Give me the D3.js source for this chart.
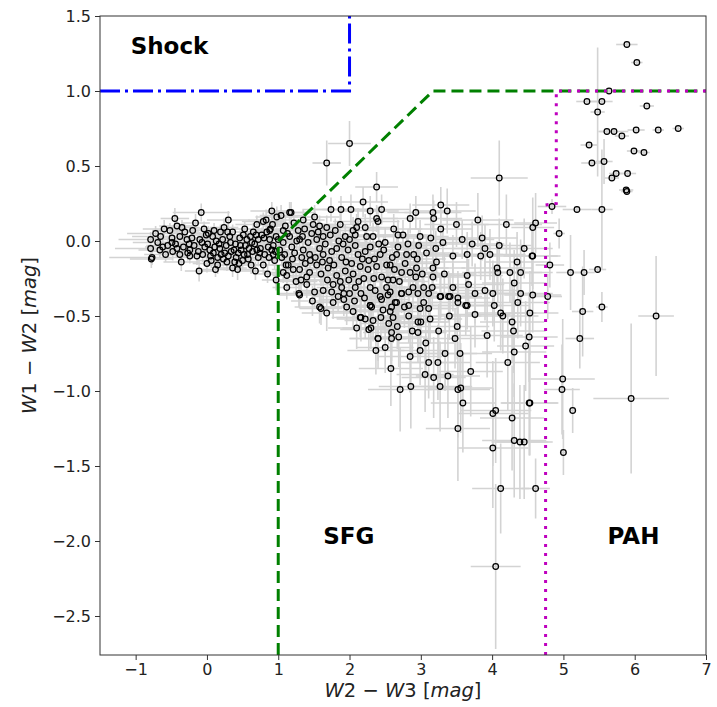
<!DOCTYPE html>
<html><head><meta charset="utf-8">
<script src="https://cdn.jsdelivr.net/npm/d3@7"></script>
<style>body{margin:0;background:#fff;} text{font-family:"DejaVu Sans",sans-serif;}</style>
</head><body><svg id="c" width="717" height="707"></svg>
<script>
// each entry: [W2-W3, W1-W2, xerr, yerr]
const bluePoints = [
[-0.79,0.01,0.45,0.05],[-0.79,-0.05,0.5,0.06],[-0.77,-0.11,0.6,0.05],[-0.78,-0.12,0.3,0.06],
[-0.69,-0.01,0.35,0.05],[-0.66,-0.06,0.3,0.05],[-0.62,-0.04,0.25,0.06],[-0.60,0.08,0.3,0.06],
[-0.52,0.07,0.25,0.05],[-0.49,0.02,0.3,0.06],[-0.49,-0.01,0.2,0.05],[-0.45,0.15,0.2,0.07],
[-0.42,0.10,0.25,0.06],[-0.48,-0.07,0.3,0.06],[-0.42,-0.05,0.2,0.05],[-0.38,0.03,0.2,0.05],
[-0.36,-0.14,0.25,0.06],[-0.31,0.06,0.2,0.05],[-0.28,0.01,0.25,0.05],[-0.25,-0.02,0.2,0.06],
[-0.24,-0.06,0.2,0.05],[-0.20,0.07,0.25,0.06],[-0.24,-0.10,0.2,0.05],[-0.14,-0.10,0.2,0.06],
[-0.11,-0.20,0.2,0.07],[-0.08,0.19,0.4,0.06],[-0.04,0.08,0.2,0.05],[-0.10,0.01,0.15,0.05],
[-0.03,-0.04,0.2,0.05],[0.00,-0.15,0.2,0.06],[0.04,-0.06,0.15,0.05],[0.08,0.03,0.2,0.05],
[0.11,-0.04,0.15,0.05],[0.15,-0.11,0.2,0.06],[0.15,-0.16,0.2,0.06],[0.22,0.01,0.15,0.05],
[0.24,0.09,0.2,0.06],[0.25,-0.08,0.15,0.05],[0.28,-0.14,0.2,0.06],[0.32,0.03,0.2,0.05],
[0.36,0.06,0.2,0.05],[0.38,-0.06,0.15,0.05],[0.36,-0.18,0.2,0.06],[0.41,-0.11,0.2,0.05],
[0.43,-0.19,0.2,0.07],[0.48,-0.06,0.2,0.05],[0.50,-0.13,0.2,0.06],[0.56,0.01,0.2,0.05],
[0.59,-0.05,0.2,0.05],[0.62,-0.16,0.2,0.06],[0.65,0.06,0.2,0.06],[0.70,0.11,0.3,0.06],
[0.72,0.01,0.2,0.05],[0.70,-0.06,0.2,0.05],[0.72,-0.11,0.2,0.06],[0.79,-0.16,0.2,0.06],
[0.79,0.13,0.3,0.06],[0.84,0.06,0.2,0.06],[0.83,0.14,0.25,0.07],[0.88,0.01,0.2,0.05],
[0.91,-0.06,0.2,0.06],[0.93,-0.03,0.2,0.05],[0.95,-0.13,0.2,0.06],[0.98,0.16,0.3,0.07],
[1.04,0.17,0.3,0.07],[1.00,0.01,0.2,0.06],[1.05,-0.11,0.2,0.06],[1.12,-0.31,0.2,0.08],
[1.16,0.19,0.3,0.07],[1.11,-0.16,0.2,0.06],[1.12,-0.23,0.2,0.07],
[-0.18,-0.03,0.2,0.05],[-0.12,-0.07,0.2,0.05],[-0.06,-0.09,0.2,0.05],[0.01,-0.02,0.2,0.05],
[0.05,-0.10,0.2,0.05],[0.09,-0.08,0.2,0.05],[0.13,0.00,0.2,0.05],[0.18,-0.05,0.2,0.05],
[0.20,-0.09,0.2,0.05],[0.27,-0.03,0.2,0.05],[0.30,-0.10,0.2,0.05],[0.34,-0.07,0.2,0.05],
[0.40,-0.02,0.2,0.05],[0.44,-0.08,0.2,0.05],[0.46,0.02,0.2,0.05],[0.52,-0.09,0.2,0.05],
[0.54,-0.03,0.2,0.05],[0.58,-0.12,0.2,0.05],[0.61,0.03,0.2,0.05],[0.64,-0.07,0.2,0.05],
[0.67,-0.02,0.2,0.05],[0.75,-0.05,0.2,0.05],[0.77,0.04,0.2,0.05],[0.81,-0.09,0.2,0.05],
[0.86,-0.04,0.2,0.05],[0.89,0.08,0.2,0.05],[0.96,-0.07,0.2,0.05],[0.02,0.05,0.2,0.05],
[-0.33,-0.04,0.2,0.05],[-0.55,-0.03,0.3,0.05],[0.19,0.06,0.2,0.05],[0.53,0.08,0.2,0.05],
[0.45,-0.15,0.2,0.05],[0.12,-0.19,0.2,0.05],[0.68,-0.20,0.2,0.06],[0.85,-0.22,0.2,0.06],
[0.97,-0.26,0.2,0.07],[0.91,0.20,0.3,0.06],[-0.16,0.12,0.2,0.06],[0.30,0.14,0.3,0.06],
[-0.65,0.03,0.4,0.06],[-0.38,-0.09,0.2,0.05],
[-0.72,0.05,0.4,0.05],[-0.58,-0.09,0.3,0.05],[-0.44,-0.02,0.3,0.05],[-0.35,0.09,0.25,0.05],
[-0.27,-0.08,0.2,0.05],[-0.21,0.02,0.2,0.05],[-0.07,-0.01,0.2,0.05],[-0.01,0.04,0.2,0.05],
[0.06,-0.13,0.2,0.05],[0.10,0.07,0.2,0.05],[0.17,-0.02,0.2,0.05],[0.23,-0.12,0.2,0.05],
[0.29,0.06,0.2,0.05],[0.33,-0.01,0.2,0.05],[0.39,-0.14,0.2,0.05],[0.47,-0.03,0.2,0.05],
[0.51,0.04,0.2,0.05],[0.57,-0.09,0.2,0.05],[0.63,-0.01,0.2,0.05],[0.69,0.04,0.2,0.05],
[0.74,-0.08,0.2,0.05],[0.80,0.02,0.2,0.05],[0.87,-0.11,0.2,0.05],[0.92,0.11,0.2,0.05],
[0.97,0.03,0.2,0.05]
];
const sfgBand = [
[1.18,0.19,0.35,0.07],[1.35,0.14,0.3,0.07],[1.51,0.16,0.35,0.08],[1.74,0.21,0.4,0.08],
[1.88,0.21,0.4,0.09],[2.02,0.21,0.4,0.1],[2.19,0.26,0.35,0.1],[2.29,0.20,0.4,0.1],
[2.45,0.21,0.4,0.1],[2.38,0.15,0.3,0.09],[2.40,0.13,0.3,0.1],[0.88,0.07,0.25,0.06],
[1.07,0.07,0.3,0.06],[1.16,0.03,0.25,0.06],[1.28,0.07,0.3,0.07],[1.37,0.08,0.3,0.07],
[1.49,0.11,0.3,0.07],[1.58,0.10,0.3,0.07],[1.68,0.09,0.3,0.08],[1.80,0.07,0.35,0.08],
[1.87,0.11,0.3,0.08],[2.10,0.09,0.35,0.09],[2.12,0.13,0.35,0.09],[2.22,0.09,0.35,0.09],
[2.24,0.03,0.35,0.09],[2.33,0.03,0.35,0.09],[1.94,0.03,0.3,0.08],[2.00,0.01,0.3,0.08],
[2.08,0.04,0.3,0.08],[1.73,0.04,0.3,0.07],[1.63,0.03,0.3,0.07],[1.54,0.01,0.3,0.07],
[1.42,-0.01,0.3,0.07],[1.30,0.01,0.3,0.07],[1.19,-0.04,0.3,0.07],[1.07,-0.01,0.25,0.06],
[1.02,-0.06,0.25,0.06],[1.09,-0.09,0.25,0.06],[1.23,-0.08,0.3,0.07],[1.35,-0.06,0.3,0.07],
[1.33,-0.11,0.3,0.07],[1.44,-0.09,0.3,0.07],[1.58,-0.05,0.3,0.07],[1.63,-0.09,0.3,0.08],
[1.75,-0.07,0.3,0.08],[1.82,-0.05,0.3,0.08],[1.89,-0.11,0.35,0.08],[1.98,-0.06,0.35,0.08],
[2.08,-0.03,0.35,0.09],[2.12,-0.09,0.35,0.09],[2.22,-0.07,0.35,0.09],[2.29,-0.04,0.35,0.09],
[2.43,-0.09,0.4,0.1],[2.50,-0.01,0.4,0.1],[2.68,-0.04,0.4,0.1],[2.52,-0.16,0.4,0.1],
[2.57,-0.16,0.4,0.1],[2.38,-0.17,0.4,0.1],[2.26,-0.19,0.35,0.1],[2.15,-0.17,0.35,0.1],
[2.03,-0.15,0.35,0.09],[1.94,-0.20,0.35,0.09],[1.82,-0.23,0.35,0.09],[1.70,-0.18,0.3,0.09],
[1.54,-0.16,0.3,0.08],[1.44,-0.21,0.3,0.08],[1.30,-0.19,0.3,0.08],[1.14,-0.16,0.25,0.07],
[1.30,-0.36,0.3,0.09],[1.51,-0.34,0.3,0.1],[1.77,-0.29,0.35,0.1],[1.89,-0.31,0.35,0.1],
[2.08,-0.31,0.35,0.1],[2.29,-0.31,0.4,0.11],[2.43,-0.37,0.4,0.12],[2.64,-0.41,0.4,0.12],
[2.73,-0.35,0.4,0.12],[2.57,-0.34,0.4,0.12],[2.31,-0.44,0.4,0.12],[1.77,-0.41,0.35,0.11],
[1.58,-0.44,0.35,0.11],[1.07,-0.21,0.25,0.07],[0.93,-0.09,0.25,0.06],[2.75,0.04,0.4,0.1],
[2.68,0.04,0.4,0.1],[2.90,-0.09,0.4,0.11],[2.94,-0.18,0.45,0.12],[2.85,-0.21,0.4,0.12],
[2.93,-0.24,0.45,0.12],[2.89,-0.31,0.45,0.13],[3.04,-0.31,0.45,0.13],[2.78,-0.15,0.4,0.11],
[2.66,-0.09,0.4,0.11],[2.73,-0.21,0.4,0.12],[2.80,-0.09,0.4,0.11],[2.61,-0.26,0.4,0.12],
[2.54,-0.26,0.4,0.12],[2.45,-0.24,0.4,0.11],[1.29,-0.35,0.3,0.09],[1.25,-0.27,0.3,0.08],
[1.40,-0.29,0.3,0.09],[1.63,-0.33,0.3,0.1],[1.60,-0.45,0.3,0.11],[1.92,-0.39,0.35,0.11],
[1.92,-0.35,0.35,0.1],[2.05,-0.47,0.35,0.12],[2.15,-0.51,0.4,0.13],[2.22,-0.52,0.4,0.13],
[2.29,-0.43,0.4,0.12],[2.27,-0.59,0.4,0.14],[2.30,-0.58,0.4,0.14],[2.40,-0.65,0.4,0.15],
[2.37,-0.73,0.4,0.16],[2.44,-0.51,0.4,0.13],[2.16,-0.35,0.35,0.1],[2.00,-0.35,0.35,0.1],
[1.87,-0.27,0.3,0.09],
[1.20,-0.12,0.3,0.07],[1.26,0.00,0.3,0.07],[1.38,-0.15,0.3,0.08],[1.47,0.05,0.3,0.07],
[1.52,-0.11,0.3,0.08],[1.60,-0.22,0.3,0.08],[1.66,-0.02,0.3,0.08],[1.72,-0.13,0.3,0.08],
[1.85,0.00,0.3,0.08],[1.95,-0.14,0.35,0.09],[2.05,0.07,0.35,0.09],[2.18,-0.12,0.35,0.09],
[2.20,-0.25,0.35,0.1],[2.35,-0.12,0.4,0.1],[2.48,-0.06,0.4,0.1],[2.60,-0.11,0.4,0.1],
[2.62,0.08,0.4,0.1],[2.05,-0.22,0.35,0.1],[1.75,-0.34,0.35,0.1],[1.40,-0.24,0.3,0.08],
[1.22,0.12,0.3,0.07],[1.32,-0.26,0.3,0.08],[2.52,-0.31,0.4,0.12],[2.34,-0.25,0.4,0.11],
[1.10,0.10,0.3,0.07],[2.70,-0.27,0.4,0.12],[2.85,0.15,0.4,0.1],
[1.13,0.05,0.3,0.07],[1.21,-0.19,0.3,0.07],[1.34,0.03,0.3,0.07],[1.45,-0.13,0.3,0.08],
[1.56,0.06,0.3,0.08],[1.62,-0.14,0.3,0.08],[1.69,-0.26,0.3,0.09],[1.78,-0.16,0.3,0.08],
[1.84,-0.37,0.35,0.1],[1.91,-0.02,0.3,0.08],[1.99,-0.26,0.35,0.1],[2.07,-0.40,0.35,0.11],
[2.13,-0.27,0.35,0.1],[2.21,-0.38,0.4,0.11],[2.27,-0.13,0.35,0.1],[2.36,-0.33,0.4,0.11],
[2.41,-0.02,0.4,0.1],[2.47,-0.46,0.4,0.13],[2.55,-0.55,0.4,0.14],[2.63,-0.19,0.4,0.11],
[2.67,-0.57,0.4,0.15],[2.77,-0.44,0.4,0.14],[2.82,-0.02,0.4,0.1],[2.88,-0.60,0.45,0.16],
[2.95,-0.12,0.4,0.11],[3.02,-0.22,0.45,0.12],[3.08,-0.08,0.45,0.12],[3.13,-0.52,0.45,0.16],
[3.22,-0.14,0.45,0.13],[3.25,-0.60,0.45,0.18],[3.33,-0.22,0.45,0.14],[3.40,-0.50,0.45,0.16],
[3.45,-0.10,0.45,0.14],[3.48,-0.65,0.45,0.2],[1.48,-0.40,0.3,0.1],[1.68,-0.48,0.35,0.12],
[1.96,-0.44,0.35,0.12],[2.10,-0.58,0.4,0.14],[2.33,-0.53,0.4,0.14],[2.50,-0.71,0.4,0.17]
];
const sfgRed = [
[3.28,0.24,0.4,0.12],[3.17,0.19,0.4,0.12],[3.18,0.15,0.4,0.12],[2.93,0.19,0.4,0.11],
[3.58,0.01,0.45,0.13],[3.28,0.08,0.45,0.12],[3.14,0.02,0.45,0.12],[3.31,-0.01,0.45,0.12],
[3.21,-0.05,0.45,0.12],[2.99,0.03,0.4,0.11],[2.97,-0.03,0.4,0.11],[3.17,-0.18,0.45,0.13],
[3.17,-0.24,0.45,0.13],[3.16,-0.31,0.45,0.14],[3.28,-0.37,0.45,0.14],[3.65,-0.23,0.5,0.15],
[3.65,-0.43,0.5,0.16],[3.41,-0.37,0.45,0.15],[3.52,-0.41,0.45,0.15],
[3.37,0.20,0.4,0.15],[3.50,0.11,0.45,0.15],[3.80,0.14,0.5,0.18],[4.20,0.11,0.5,0.2],
[3.86,0.02,0.5,0.15],[4.10,-0.03,0.45,0.18],[3.90,-0.05,0.45,0.16],[3.72,-0.02,0.45,0.15],
[4.45,-0.05,0.4,0.2],
[3.65,-0.09,0.5,0.15],[3.84,-0.10,0.5,0.16],[3.97,-0.09,0.5,0.17],[4.35,-0.14,0.45,0.2],
[4.56,-0.10,0.4,0.2],[4.07,-0.18,0.5,0.18],[4.08,-0.21,0.5,0.2],[4.25,-0.21,0.45,0.2],
[4.40,-0.21,0.45,0.22],[4.31,-0.28,0.45,0.22],[3.67,-0.29,0.5,0.17],[3.90,-0.33,0.5,0.2],
[4.01,-0.35,0.5,0.22],[3.76,-0.35,0.5,0.2],[3.45,-0.31,0.45,0.16],[3.52,-0.38,0.45,0.18],
[3.39,-0.37,0.45,0.17],[3.27,-0.37,0.45,0.16],[4.40,-0.35,0.45,0.22],[4.57,-0.36,0.4,0.25],
[4.36,-0.41,0.45,0.24],[4.03,-0.43,0.5,0.24],[3.63,-0.43,0.5,0.2],[3.76,-0.49,0.5,0.22],
[4.12,-0.48,0.5,0.25],[4.15,-0.50,0.5,0.25],[4.28,-0.54,0.45,0.27],[4.53,-0.48,0.4,0.28],
[3.51,-0.57,0.45,0.22],[3.93,-0.63,0.5,0.28],[4.52,-0.64,0.4,0.3],[4.47,-0.70,0.4,0.3],
[4.31,-0.74,0.45,0.3],[4.22,-0.81,0.45,0.32],[3.70,-0.87,0.45,0.3],[3.38,-0.90,0.45,0.28],
[3.18,-0.91,0.45,0.27],[3.06,-0.89,0.4,0.25],[3.24,-0.81,0.45,0.25],[3.11,-0.81,0.4,0.24],
[3.34,-0.75,0.45,0.25],[3.55,-0.75,0.45,0.26],[3.27,-0.97,0.45,0.3],[3.52,-0.99,0.45,0.32],
[3.56,-0.98,0.45,0.3],[3.59,-1.08,0.45,0.33],[4.01,-1.15,0.5,0.35],[4.05,-1.13,0.5,0.35],
[4.28,-1.18,0.45,0.35],[4.52,-1.08,0.4,0.35],[3.52,-1.25,0.45,0.35],[4.31,-1.33,0.45,0.38],
[4.39,-1.34,0.4,0.38],[4.45,-1.34,0.4,0.38],[4.01,-1.38,0.5,0.4],[2.71,-0.99,0.45,0.28],
[2.86,-0.97,0.45,0.28],[2.58,-0.85,0.45,0.25],[2.85,-0.77,0.45,0.24],[2.99,-0.73,0.4,0.23],
[3.07,-0.68,0.4,0.22],[2.96,-0.61,0.4,0.2],[2.40,-0.65,0.4,0.2],[2.59,-0.65,0.4,0.2],
[2.69,-0.64,0.4,0.2],[2.59,-0.61,0.4,0.19],[2.16,-0.51,0.35,0.16],[2.61,-0.51,0.4,0.17],
[2.83,-0.50,0.4,0.18],[2.96,-0.54,0.4,0.18],[3.00,-0.54,0.4,0.18],[2.99,-0.45,0.4,0.16],
[3.11,-0.45,0.4,0.16],[3.04,-0.41,0.4,0.15],[2.83,-0.43,0.4,0.15],[2.57,-0.47,0.4,0.16],
[2.59,-0.44,0.4,0.15],[2.29,-0.43,0.35,0.15],[2.66,-0.41,0.4,0.15],[2.45,-0.39,0.4,0.14],
[2.54,-0.36,0.4,0.14],[2.73,-0.35,0.4,0.13],[2.83,-0.34,0.4,0.13],[2.96,-0.35,0.4,0.14],
[3.11,-0.35,0.4,0.14],[4.61,0.12,0.3,0.2],[4.57,0.09,0.3,0.2],[4.57,-0.10,0.35,0.22],
[4.53,-1.08,0.4,0.35],[4.30,-0.60,0.45,0.28]
];
const pahPoints = [
[5.89,1.31,0.15,0.02],[6.03,1.19,0.08,0.02],[5.64,1.00,0.1,0.02],[5.33,0.93,0.15,0.02],
[5.54,0.93,0.15,0.02],[6.17,0.90,0.1,0.02],[5.48,0.86,0.1,0.43],[5.61,0.73,0.12,0.02],
[5.71,0.73,0.2,0.02],[6.02,0.74,0.12,0.02],[6.33,0.74,0.08,0.02],[6.61,0.75,0.08,0.02],
[5.82,0.70,0.1,0.02],[5.36,0.64,0.12,0.02],[5.99,0.60,0.1,0.02],[6.13,0.59,0.08,0.02],
[5.40,0.52,0.15,0.02],[5.57,0.53,0.12,0.15],[5.74,0.45,0.1,0.02],[5.90,0.45,0.12,0.02],
[5.68,0.42,0.1,0.02],[5.88,0.34,0.1,0.02],[5.89,0.33,0.08,0.02],
[4.84,0.23,0.2,0.05],[5.19,0.21,0.2,0.02],[5.54,0.21,0.15,0.4],[4.94,0.05,0.08,0.1],
[4.81,-0.16,0.2,0.15],[5.10,-0.21,0.2,0.25],[5.29,-0.21,0.15,0.15],[5.48,-0.19,0.12,0.02],
[4.78,-0.37,0.2,0.15],[5.54,-0.44,0.08,0.1],[5.27,-0.47,0.15,0.3],[6.30,-0.50,0.25,0.4],
[5.23,-0.65,0.2,0.2],[4.99,-0.92,0.45,0.4],[4.98,-0.99,0.25,0.3],[5.95,-1.05,0.53,0.5],
[5.13,-1.13,0.05,0.15],[5.00,-1.41,0.05,0.15]
];
const outliers = [
[2.38,0.36,0.3,0.1],[2.00,0.65,0.3,0.15],[1.68,0.52,0.2,0.15],[4.10,0.42,0.4,0.25],
[4.05,-2.17,0.35,0.55],[4.12,-1.65,0.4,0.3],[4.61,-1.65,0.2,0.2]
];
const xTicks = [-1,0,1,2,3,4,5,6,7];
const yTicks = [-2.5,-2.0,-1.5,-1.0,-0.5,0.0,0.5,1.0,1.5];
const shockX = [-1.5,2,2], shockY = [1,1,1.5];
const sfgX = [1,1,3.17,7], sfgY = [-2.76,0,1,1];
const pahX = [4.75,4.75,4.9,4.9,7], pahY = [-2.76,0.24,0.25,1,1];
const regionLabels = [["Shock",-1.07,1.247],["SFG",1.63,-2.02],["PAH",5.62,-2.02]];

const svg = d3.select("#c");
const L=100,R=706,T=16,B=655;
const x = d3.scaleLinear().domain([-1.5,7]).range([L,R]);
const y = d3.scaleLinear().domain([-2.76,1.5]).range([B,T]);
svg.append("defs").append("clipPath").attr("id","clip").append("rect")
  .attr("x",L).attr("y",T).attr("width",R-L).attr("height",B-T);
const all = [].concat(bluePoints,sfgBand,sfgRed,pahPoints,outliers);
const g = svg.append("g").attr("clip-path","url(#clip)");
const eg = g.append("g").attr("stroke","#d3d3d3").attr("stroke-width",1.6);
all.forEach(d=>{
  eg.append("line").attr("x1",x(d[0]-d[2])).attr("x2",x(d[0]+d[2])).attr("y1",y(d[1])).attr("y2",y(d[1]));
  eg.append("line").attr("x1",x(d[0])).attr("x2",x(d[0])).attr("y1",y(d[1]-d[3])).attr("y2",y(d[1]+d[3]));
});
g.append("g").selectAll("circle").data(all).join("circle")
  .attr("cx",d=>x(d[0])).attr("cy",d=>y(d[1])).attr("r",2.8)
  .attr("fill","none").attr("stroke","#000").attr("stroke-width",1.25);
const line = d3.line().x(d=>x(d[0])).y(d=>y(d[1]));
g.append("path").attr("d",line(sfgX.map((v,i)=>[v,sfgY[i]]))).attr("fill","none")
  .attr("stroke","#008000").attr("stroke-width",3).attr("stroke-dasharray","12,6");
g.append("path").attr("d",line(pahX.map((v,i)=>[v,pahY[i]]))).attr("fill","none")
  .attr("stroke","#bf00bf").attr("stroke-width",3).attr("stroke-dasharray","3,6");
g.append("path").attr("d",line(shockX.map((v,i)=>[v,shockY[i]]))).attr("fill","none")
  .attr("stroke","#0000ff").attr("stroke-width",3).attr("stroke-dasharray","20,5,3,5");

// frame
svg.append("rect").attr("x",L).attr("y",T).attr("width",R-L).attr("height",B-T)
  .attr("fill","none").attr("stroke","#333").attr("stroke-width",1);
const fmtY = d3.format(".1f");
const ax = svg.append("g").attr("transform",`translate(0,${B})`)
  .call(d3.axisBottom(x).tickValues(xTicks).tickSize(5).tickPadding(4).tickFormat(d3.format("d")));
const ay = svg.append("g").attr("transform",`translate(${L},0)`)
  .call(d3.axisLeft(y).tickValues(yTicks).tickSize(5).tickPadding(4).tickFormat(fmtY));
[ax,ay].forEach(a=>{a.select(".domain").remove();
  a.selectAll("text").attr("font-family","DejaVu Sans").attr("font-size",16).attr("fill","#222");
  a.selectAll("line").attr("stroke","#333");});

function mathLabel(sel, parts){
  parts.forEach(p=>sel.append("tspan").attr("font-style",p[1]?"italic":"normal").text(p[0]));
}
const xl = svg.append("text").attr("x",(L+R)/2).attr("y",697).attr("text-anchor","middle")
  .attr("font-size",19.5).attr("fill","#222");
mathLabel(xl,[["W",1],["2 − ",0],["W",1],["3 [",0],["mag",1],["]",0]]);
const yl = svg.append("text").attr("transform",`translate(36,${(T+B)/2}) rotate(-90)`).attr("text-anchor","middle")
  .attr("font-size",19.5).attr("fill","#222");
mathLabel(yl,[["W",1],["1 − ",0],["W",1],["2 [",0],["mag",1],["]",0]]);

svg.selectAll(".rl").data(regionLabels).join("text").attr("class","rl")
  .attr("x",d=>x(d[1])).attr("y",d=>y(d[2])).attr("font-weight","bold")
  .attr("font-size",23).attr("fill","#000").text(d=>d[0]);
</script></body></html>
